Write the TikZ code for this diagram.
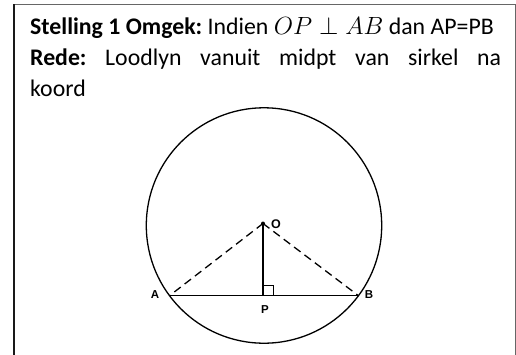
\documentclass[tikz,border=0pt]{standalone}
\usepackage{fontspec}
\setmainfont{Carlito}
\newfontfamily\labelfont{Liberation Sans}
\usetikzlibrary{calc}
\tikzset{
  frameline/.style={draw=black!60, line width=1pt},
  geo/.style={line width=1.3pt},
  dashline/.style={line width=1.3pt, dash pattern=on 8pt off 5pt},
  ptlabel/.style={font=\labelfont\bfseries\fontsize{11.5}{12}\selectfont, inner sep=0pt},
}
\begin{document}
\begin{tikzpicture}[x=1pt,y=-1pt]
\useasboundingbox (0,0) rectangle (516,354);
% frame
\draw[frameline] (14,355) -- (14,4) -- (515,4) -- (515,355);
\draw[line width=1.4pt, black!90] (14,355) -- (14,4);
% text
\node[anchor=north west, inner sep=0pt, text width=471pt, align=justify,
      font=\fontsize{23.8}{31}\selectfont\frenchspacing] (txt) at (30,17.5)
  {\mbox{\textbf{Stelling 1 Omgek:} Indien $OP\perp AB$ dan AP=PB}\par
   \textbf{Rede:} Loodlyn vanuit midpt van sirkel na\linebreak koord};
% geometry
\coordinate (C) at (264,225.5);
\coordinate (O) at (263,223.5);
\coordinate (A) at (169.5,295.7);
\coordinate (B) at (358.5,295.7);
\coordinate (P) at (263,295.7);
\draw[geo] (C) circle[radius=117.7];
\draw[geo] (A) -- (B);
\draw[geo] (O) -- (P);
\draw[dashline] (O) -- (A);
\draw[dashline] (O) -- (B);
\draw[line width=1pt] ($(P)+(0,-10)$) -- ++(10,0) -- ++(0,10);
\fill (O) circle[radius=2pt];
\node[ptlabel] (lA) at (155,295) {A};
\node[ptlabel] (lB) at (369,295) {B};
\node[ptlabel] (lP) at (265,309.5) {P};
\node[ptlabel, font=\labelfont\bfseries\fontsize{12.5}{12}\selectfont] (lO) at (276,224) {O};
\end{tikzpicture}
\end{document}
